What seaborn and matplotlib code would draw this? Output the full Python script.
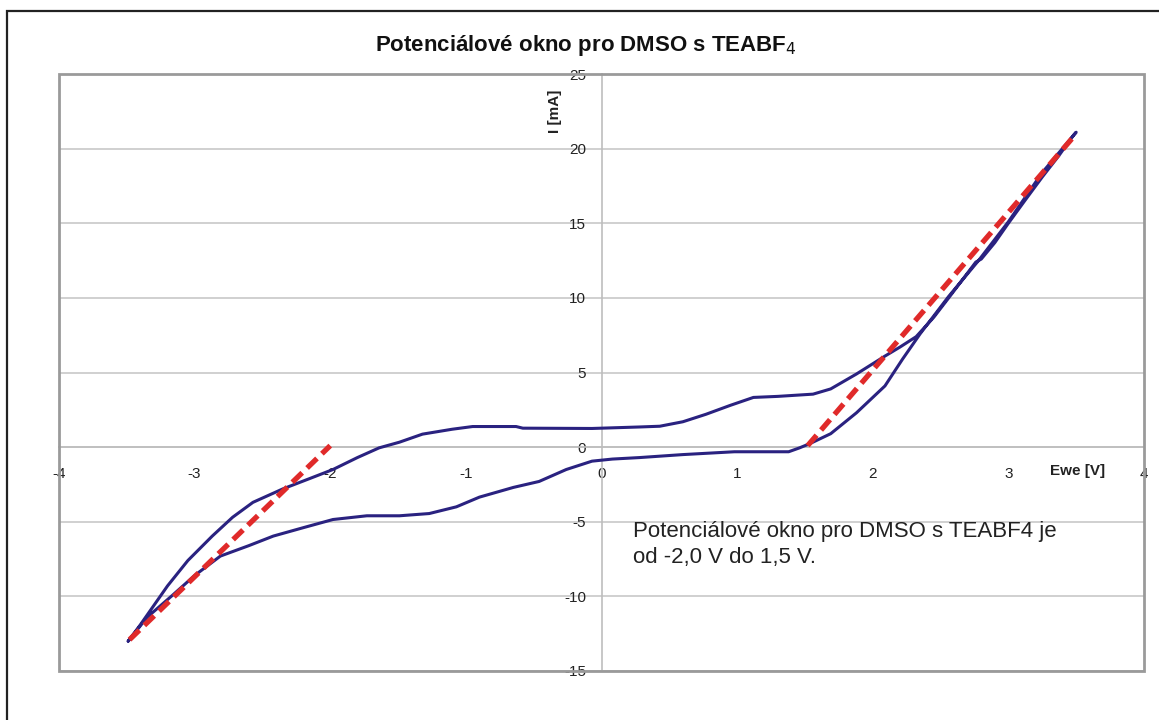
import numpy as np
import pandas as pd
import matplotlib
matplotlib.use('Agg')
import matplotlib.pyplot as plt
import seaborn as sns
from matplotlib.patches import Rectangle

# horní větev CV (Ewe [V], I [mA])
upper_x = [-3.49, -3.40, -3.30, -3.20, -3.05, -2.87, -2.72, -2.57, -2.35, -2.15,
           -1.98, -1.80, -1.64, -1.49, -1.32, -1.10, -0.95, -0.63, -0.58, -0.07,
           0.28, 0.43, 0.60, 0.77, 0.95, 1.12, 1.30, 1.56, 1.69, 1.88,
           2.09, 2.20, 2.32, 2.45, 2.56, 2.66, 2.76, 2.80, 2.90, 3.00,
           3.12, 3.25, 3.37, 3.48]
upper_y = [-13.0, -11.9, -10.6, -9.3, -7.6, -5.96, -4.7, -3.7, -2.8, -2.1,
           -1.5, -0.7, -0.05, 0.33, 0.87, 1.2, 1.38, 1.38, 1.27, 1.25,
           1.35, 1.4, 1.7, 2.2, 2.8, 3.33, 3.4, 3.55, 3.9, 4.9,
           6.1, 6.7, 7.4, 8.7, 10.0, 11.2, 12.4, 12.6, 13.7, 15.0,
           16.5, 18.1, 19.5, 20.9]

# dolní větev CV
lower_x = [-3.49, -3.35, -3.16, -3.00, -2.81, -2.60, -2.42, -2.20, -1.98, -1.73,
           -1.49, -1.27, -1.07, -0.90, -0.65, -0.46, -0.26, -0.07, 0.08, 0.28,
           0.60, 0.98, 1.38, 1.46, 1.54, 1.69, 1.88, 2.09, 2.22, 2.35,
           2.56, 2.78, 3.00, 3.25, 3.50]
lower_y = [-13.0, -11.4, -9.9, -8.6, -7.3, -6.6, -5.96, -5.4, -4.85, -4.6,
           -4.6, -4.45, -4.0, -3.35, -2.7, -2.3, -1.5, -0.94, -0.8, -0.7,
           -0.5, -0.31, -0.31, -0.05, 0.25, 0.9, 2.3, 4.1, 5.9, 7.6,
           10.1, 12.5, 15.1, 18.4, 21.1]

# tečny (červené čárkované)
tan_left_x = [-3.48, -2.0]
tan_left_y = [-12.9, 0.1]
tan_right_x = [1.52, 3.5]
tan_right_y = [0.1, 21.0]

x_ticks = [-4, -3, -2, -1, 0, 1, 2, 3, 4]
y_ticks = [-15, -10, -5, 0, 5, 10, 15, 20, 25]

sns.set_style('white')
plt.rcParams['font.family'] = ['Liberation Sans', 'DejaVu Sans']
plt.rcParams['axes.unicode_minus'] = False

fig = plt.figure(figsize=(11.59, 7.2), dpi=100)
ax = fig.add_axes([59 / 1159, 1 - 671 / 720, 1085 / 1159, 597 / 720])

# uzavřená smyčka CV
loop = pd.DataFrame({
    'Ewe': upper_x + lower_x[::-1],
    'I': upper_y + lower_y[::-1],
})
sns.lineplot(data=loop, x='Ewe', y='I', sort=False, estimator=None,
             color='#2a2280', linewidth=2.2, ax=ax, zorder=3)

for tx, ty in [(tan_left_x, tan_left_y), (tan_right_x, tan_right_y)]:
    sns.lineplot(x=tx, y=ty, sort=False, estimator=None, color='#e02a2a',
                 linewidth=3.8, linestyle=(0, (2.6, 1.3)), ax=ax, zorder=4)

ax.set_xlim(-4, 4)
ax.set_ylim(-15, 25)
ax.set_xticks(x_ticks)
ax.set_yticks(y_ticks)
ax.set_xlabel('')
ax.set_ylabel('')

ax.yaxis.grid(True, color='#c8c8c8', linewidth=1.2)
ax.xaxis.grid(False)
ax.set_axisbelow(True)

# osy procházejí nulou
ax.spines['left'].set_position(('data', 0))
ax.spines['bottom'].set_position(('data', 0))
for s in ['left', 'bottom']:
    ax.spines[s].set_color('#bdbdbd')
    ax.spines[s].set_linewidth(1.2)
for s in ['top', 'right']:
    ax.spines[s].set_visible(False)

ax.tick_params(axis='x', direction='out', length=4, width=1.2, color='#999999',
               pad=10, labelsize=11, labelcolor='#222222')
ax.tick_params(axis='y', direction='out', length=5, width=1.2, color='#999999',
               pad=6, labelsize=11, labelcolor='#222222')

# šedý rámeček plochy grafu
ax.add_patch(Rectangle((0, 0), 1, 1, transform=ax.transAxes, fill=False,
                       edgecolor='#9a9a9a', linewidth=2, clip_on=False, zorder=5))

ax.text((1078 - 59) / 1085, (671 - 471) / 597, 'Ewe [V]', transform=ax.transAxes,
        ha='center', va='center', fontsize=11, fontweight='bold', color='#222222')
ax.text((555 - 59) / 1085, (671 - 111) / 597, 'I [mA]', transform=ax.transAxes,
        ha='center', va='center', rotation=90, fontsize=11, fontweight='bold',
        color='#222222')

ax.text(0.23, -4.95, 'Potenciálové okno pro DMSO s TEABF4 je\nod -2,0 V do 1,5 V.',
        ha='left', va='top', fontsize=16, color='#222222', linespacing=1.3)

fig.text(586 / 1159, 1 - 45 / 720, 'Potenciálové okno pro DMSO s TEABF$_4$',
         ha='center', va='center', fontsize=16, fontweight='bold', color='#111111')

# vnější černý rámeček (zasahuje mimo obrázek)
fig.add_artist(Rectangle((7 / 1159, -1), 2, 1 + (1 - 11 / 720), transform=fig.transFigure,
                         fill=False, edgecolor='#222222', linewidth=1.6))

fig.savefig('out.png', dpi=100)
plt.close()
